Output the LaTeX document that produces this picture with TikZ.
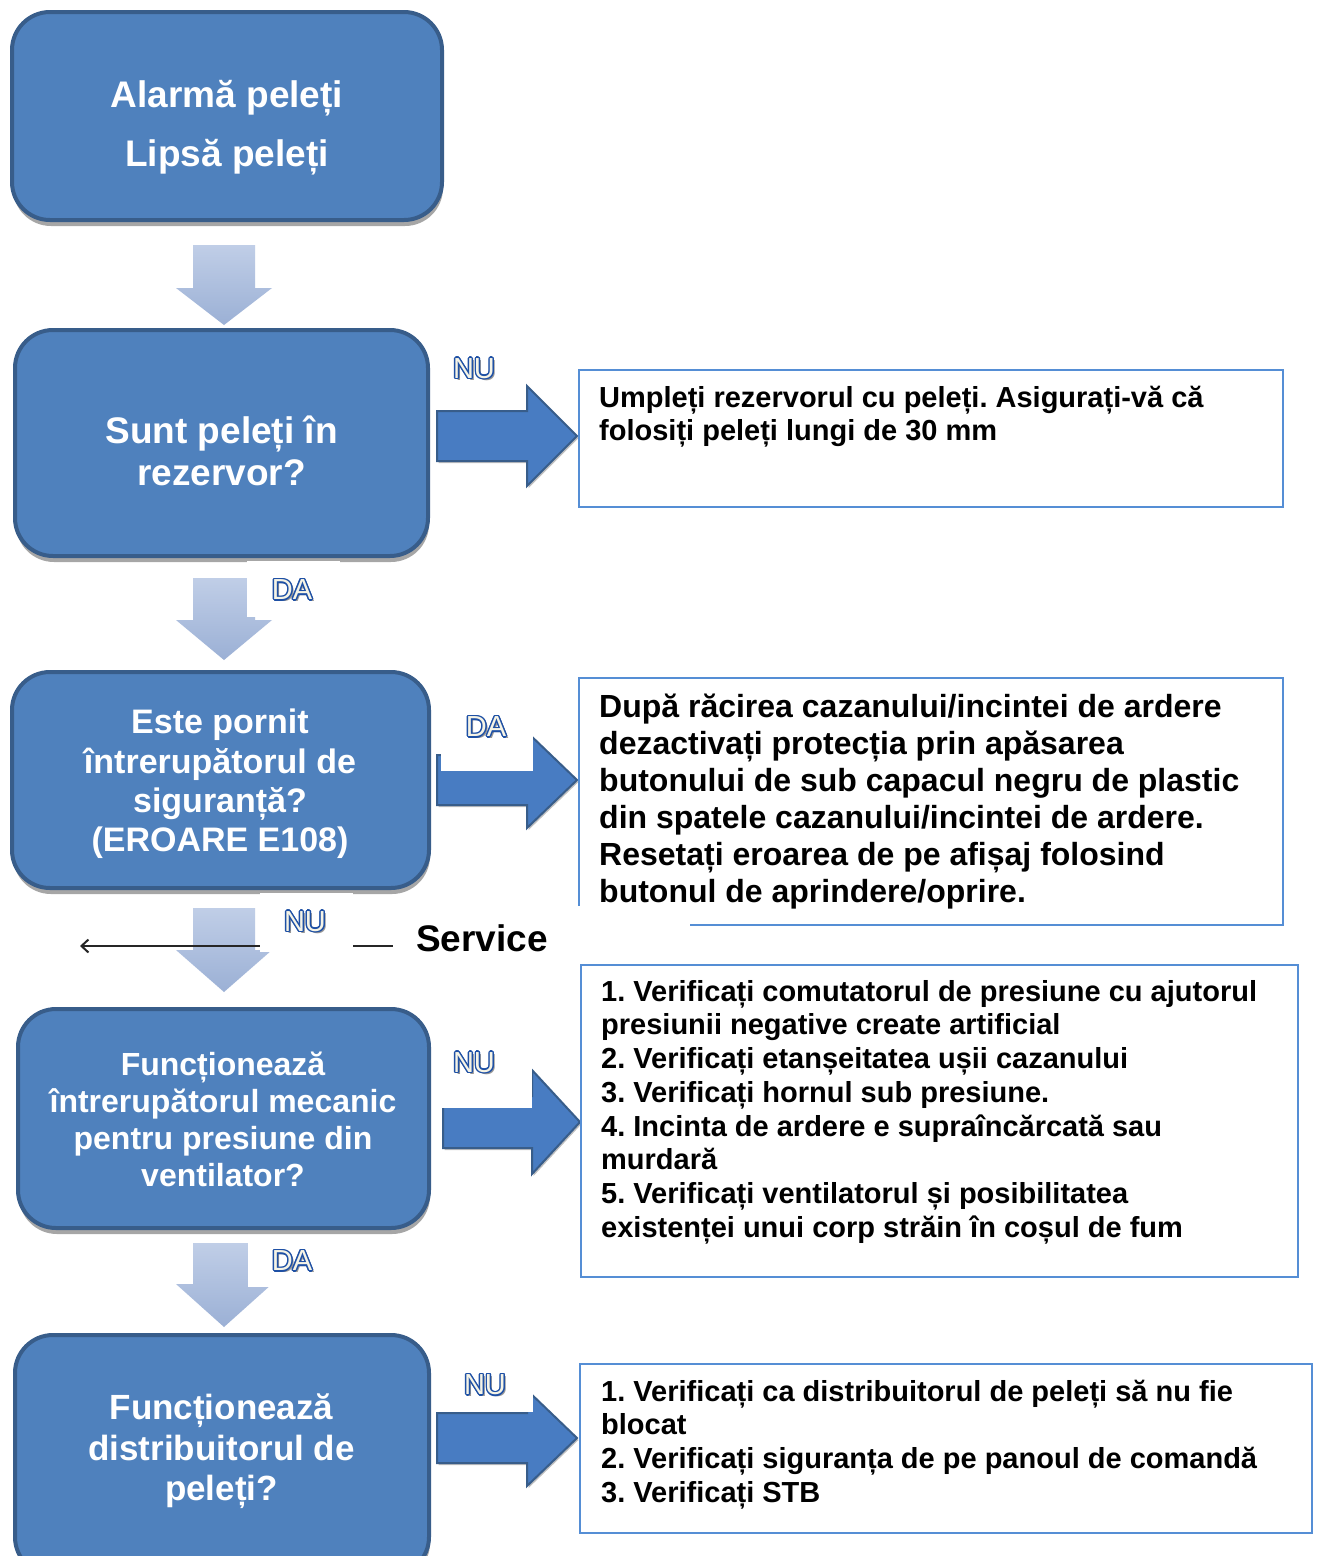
\documentclass[tikz,border=0pt]{standalone}
\usepackage{fontspec}
\setmainfont{Liberation Sans}
\usetikzlibrary{arrows.meta,shadows}
\definecolor{boxfill}{RGB}{79,129,189}
\definecolor{boxline}{RGB}{56,93,138}
\definecolor{downtop}{RGB}{192,206,231}
\definecolor{downbot}{RGB}{155,176,213}
\definecolor{rafill}{RGB}{72,124,194}
\definecolor{raline}{RGB}{56,93,138}
\definecolor{rboxline}{RGB}{85,142,213}
\definecolor{lblblue}{RGB}{30,80,165}
\definecolor{lblfill}{RGB}{246,244,230}
\definecolor{lblshadow}{RGB}{150,150,150}
\newcommand\olt[1]{%
  \rlap{\kern2.2pt\raisebox{-2.2pt}{\color{lblshadow}#1}}%
  \rlap{\kern-1.5pt{\color{lblblue}#1}}%
  \rlap{\kern1.5pt{\color{lblblue}#1}}%
  \rlap{\raisebox{1.5pt}{\color{lblblue}#1}}%
  \rlap{\raisebox{-1.5pt}{\color{lblblue}#1}}%
  \rlap{\kern-1.05pt\raisebox{1.05pt}{\color{lblblue}#1}}%
  \rlap{\kern1.05pt\raisebox{1.05pt}{\color{lblblue}#1}}%
  \rlap{\kern-1.05pt\raisebox{-1.05pt}{\color{lblblue}#1}}%
  \rlap{\kern1.05pt\raisebox{-1.05pt}{\color{lblblue}#1}}%
  {\color{lblfill}#1}}
% right block arrow: x0 x1 x2 yc halfshaft halfhead
\newcommand\rblock[6]{%
  \draw[rblk] (#1,#4-#5) -- (#2,#4-#5) -- (#2,#4-#6) -- (#3,#4) -- (#2,#4+#6) -- (#2,#4+#5) -- (#1,#4+#5) -- cycle;}
% down block arrow: y0 y1 y2
\newcommand\dblock[3]{%
  \path[dblk] (193,#1) -- (255,#1) -- (255,#2) -- (272,#2) -- (224,#3) -- (176,#2) -- (193,#2) -- cycle;}
\frenchspacing
\begin{document}
\begin{tikzpicture}[x=1pt,y=-1pt,
  lbox/.style={draw=boxline,line width=4pt,fill=boxfill,rounded corners=38pt,inner sep=0pt,
    drop shadow={shadow xshift=1pt,shadow yshift=-6pt,opacity=.35,fill=black}},
  ltext/.style={text=white,align=center,inner sep=0pt},
  rbox/.style={draw=rboxline,line width=2pt,fill=white,inner sep=0pt},
  rtext/.style={anchor=north west,align=left,inner sep=0pt,text=black},
  lblbg/.style={fill=white,inner sep=0pt},
  lbltext/.style={inner sep=0pt,font=\fontsize{29}{33}\selectfont},
  rblk/.style={fill=rafill,draw=raline,line width=2pt,line join=miter,
    drop shadow={shadow xshift=1.5pt,shadow yshift=-2pt,opacity=.25,fill=black}},
  dblk/.style={top color=downtop,bottom color=downbot},
  rfont/.style={font=\bfseries\fontsize{29}{33.7}\selectfont},
]
\useasboundingbox (0,0) rectangle (1318,1556);
\clip (0,0) rectangle (1318,1556);
\fill[white] (0,0) rectangle (1318,1556);

% down arrows
\dblock{245}{288}{325}
\dblock{578}{620}{660}
\dblock{908}{950}{992}
\dblock{1243}{1284}{1327}

% left boxes
\node[lbox,minimum width=430pt,minimum height=208pt] (b1) at (227,116) {};
\node[lbox,minimum width=413pt,minimum height=226pt] (b2) at (221.5,443) {};
\node[lbox,minimum width=417pt,minimum height=216pt] (b3) at (220.5,780) {};
\node[lbox,minimum width=411pt,minimum height=219pt] (b4) at (223.5,1118.5) {};
\node[lbox,minimum width=414pt,minimum height=240pt] (b5) at (222,1455) {};

\node[ltext,font=\bfseries\fontsize{37}{59}\selectfont] (t1) at (227,128) {Alarmă peleți\\Lipsă peleți};
\node[ltext,font=\bfseries\fontsize{37}{42}\selectfont] (t2) at (221.5,451) {Sunt peleți în\\rezervor?};
\node[ltext,font=\bfseries\fontsize{34}{39.3}\selectfont] (t3) at (220,784) {Este pornit\\întrerupătorul de\\siguranță?\\(EROARE E108)};
\node[ltext,font=\bfseries\fontsize{32}{37}\selectfont] (t4) at (223,1119.5) {Funcționează\\întrerupătorul mecanic\\pentru presiune din\\ventilator?};
\node[ltext,font=\bfseries\fontsize{35}{40.5}\selectfont] (t5) at (221.5,1451.5) {Funcționează\\distribuitorul de\\peleți?};

% right block arrows
\rblock{437}{527}{577}{436}{25}{50}
\rblock{437}{527}{577}{780}{25}{48}
\rblock{443}{532}{580}{1122}{26}{52}
\rblock{437}{527}{577}{1438}{25}{48}

% right boxes
\node[rbox,minimum width=704pt,minimum height=137pt] (r1) at (931,438.5) {};
\node[rbox,minimum width=704pt,minimum height=247pt] (r2) at (931,801.5) {};
\node[rbox,minimum width=717pt,minimum height=312pt] (r3) at (939.5,1121) {};
\node[rbox,minimum width=732pt,minimum height=169pt] (r4) at (946,1448.5) {};

\node[rtext,rfont] (rt1) at (599,383.8) {\rule{0pt}{23.2pt}Umpleți rezervorul cu peleți. Asigurați-vă că\\folosiți peleți lungi de 30 mm};
\node[rtext,font=\bfseries\fontsize{32}{37}\selectfont] (rt2) at (599,691.4) {\rule{0pt}{25.6pt}După răcirea cazanului/incintei de ardere\\dezactivați protecția prin apăsarea\\butonului de sub capacul negru de plastic\\din spatele cazanului/incintei de ardere.\\Resetați eroarea de pe afișaj folosind\\butonul de aprindere/oprire.};
\node[rtext,rfont] (rt3) at (601,977.8) {\rule{0pt}{23.2pt}1. Verificați comutatorul de presiune cu ajutorul\\presiunii negative create artificial\\2. Verificați etanșeitatea ușii cazanului\\3. Verificați hornul sub presiune.\\4. Incinta de ardere e supraîncărcată sau\\murdară\\5. Verificați ventilatorul și posibilitatea\\existenței unui corp străin în coșul de fum};
\node[rtext,rfont] (rt4) at (601,1377.8) {\rule{0pt}{23.2pt}1. Verificați ca distribuitorul de peleți să nu fie\\blocat\\2. Verificați siguranța de pe panoul de comandă\\3. Verificați STB};

% Service
\node[fill=white,inner sep=0pt,minimum width=297pt,minimum height=55pt] (svcbg) at (541.5,933.5) {};
\node[anchor=base west,inner sep=0pt,font=\bfseries\fontsize{37}{40}\selectfont] (svc) at (416,951) {Service};
\coordinate (svcend) at (80,946);
\draw[line width=2pt,black!85,-{Straight Barb[length=7pt,width=13pt]}] (svcbg.west |- svcend) -- (svcend);

% labels
\node[lblbg,minimum width=83pt,minimum height=55pt] (nu1bg) at (479.5,367.5) {};
\node[lblbg,minimum width=93pt,minimum height=56pt] (da1bg) at (293.5,589) {};
\node[lblbg,minimum width=92pt,minimum height=76pt] (da2bg) at (487,733) {};
\node[lblbg,minimum width=93pt,minimum height=59pt] (nu2bg) at (306.5,922.5) {};
\node[lblbg,minimum width=90pt,minimum height=83pt] (nu3bg) at (487,1066.5) {};
\node[lblbg,minimum width=92pt,minimum height=51pt] (da3bg) at (294,1261.5) {};
\node[lblbg,minimum width=93pt,minimum height=67pt] (nu4bg) at (486.5,1378.5) {};

\node[lbltext] (nu1) at (474,369) {\olt{NU}};
\node[lbltext] (da1) at (292,590) {\olt{DA}};
\node[lbltext] (da2) at (486,727) {\olt{DA}};
\node[lbltext] (nu2) at (305,922) {\olt{NU}};
\node[lbltext] (nu3) at (474,1063) {\olt{NU}};
\node[lbltext] (da3) at (292,1261) {\olt{DA}};
\node[lbltext] (nu4) at (485,1385) {\olt{NU}};
\end{tikzpicture}
\end{document}
